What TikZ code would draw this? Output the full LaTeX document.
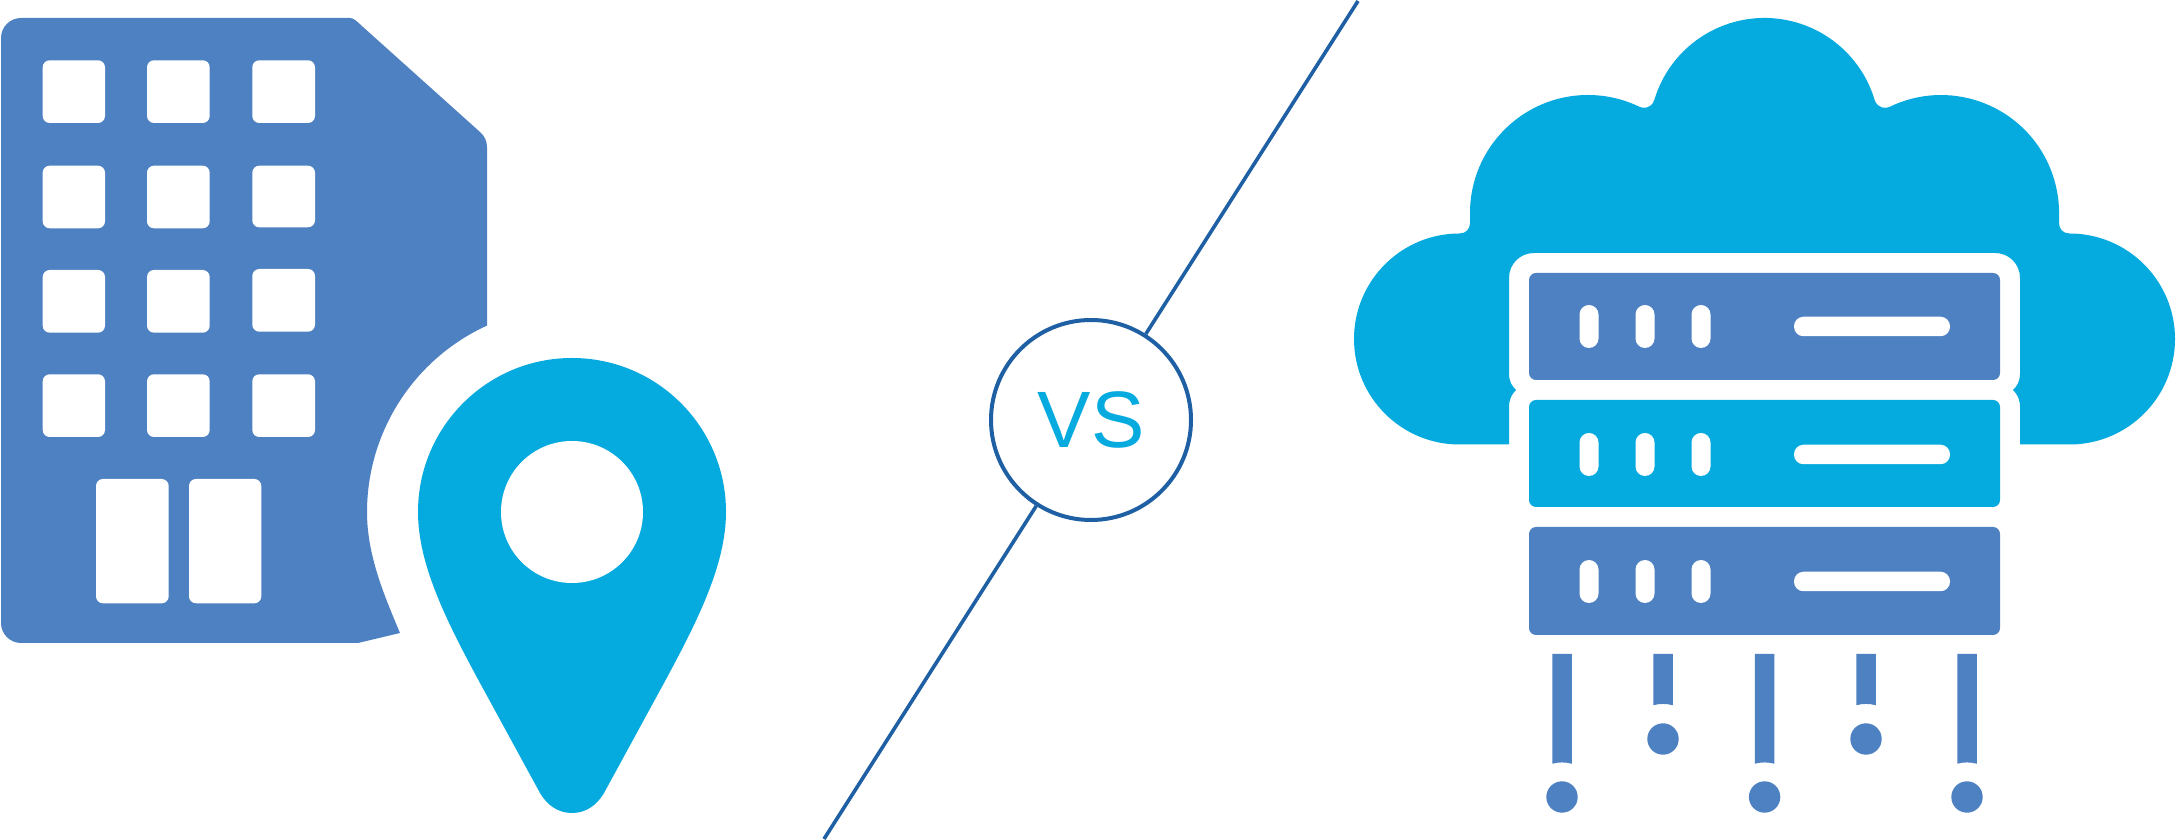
\documentclass[tikz,border=0pt]{standalone}
\usepackage{fontspec}
\setmainfont{Liberation Sans}
\definecolor{bluefill}{HTML}{4E81C2}
\definecolor{cyanfill}{HTML}{05AADF}
\definecolor{linecol}{HTML}{1F5FA3}
\tikzset{
  bluepart/.style={fill=bluefill},
  cyanpart/.style={fill=cyanfill},
  hole/.style={fill=white,rounded corners=7},
  slot/.style={fill=white,rounded corners=9.5},
  rack/.style={rounded corners=7},
  divider/.style={draw=linecol,line width=3.6pt},
  vsbadge/.style={circle,draw=linecol,line width=4pt,fill=white,minimum size=200pt,inner sep=0pt,text=cyanfill,font=\fontsize{80}{80}\selectfont}
}
\begin{document}
\begin{tikzpicture}[x=1pt,y=1pt]
\useasboundingbox (0,0) rectangle (2176,840);
\fill[white] (0,0) rectangle (2176,840);

% building
\fill[bluepart] (21,822) -- (350,822)
  .. controls (354,822) and (357.5,818) .. (363,813)
  -- (480,708) .. controls (484.5,704) and (487,699) .. (487,693)
  -- (487,514.4)
  arc[start angle=114.5,end angle=180,radius=205]
  .. controls (367,285) and (384,245) .. (400,207)
  -- (358,197) -- (21,197)
  .. controls (10,197) and (1,206) .. (1,217)
  -- (1,802) .. controls (1,813) and (10,822) .. (21,822) -- cycle;
\foreach \xa/\xb/\ya/\yb in {
  42.7/105/60.3/123, 147/209.7/60.3/123, 252.3/315/60.3/123,
  42.7/105/165.7/228.3, 147/209.7/165.7/228.3, 252.3/315/165.7/227.3,
  42.7/105/270/332.7, 147/209.7/270/332.7, 252.3/315/269/331.7,
  42.7/105/374.3/437, 147/209.7/374.3/437, 252.3/315/374.3/437}{
  \fill[hole] (\xa,840-\ya) rectangle (\xb,840-\yb);
}
\foreach \xa/\xb in {96/168.7,189/261.3}{
  \fill[hole] (\xa,840-479) rectangle (\xb,840-603.3);
}

% pin
\fill[cyanpart] (418,328)
  .. controls (418,275) and (447,218) .. (480,157)
  -- (540,47) .. controls (547,35) and (558,27) .. (572,27)
  .. controls (586,27) and (597,35) .. (604,47)
  -- (664,157) .. controls (697,218) and (726,275) .. (726,328)
  arc[start angle=0,end angle=180,radius=154] -- cycle;
\fill[white] (572,328) circle (71);

% divider with VS badge
\coordinate (lineTop) at (1358,840-1);
\coordinate (lineBottom) at (824,840-839);
\node[vsbadge] (vs) at (1091,840-420) {VS};
\draw[divider] (lineTop) -- (vs);
\draw[divider] (lineBottom) -- (vs);

% cloud
\fill[cyanpart] (1509,395.5) -- (1459.5,395.5)
  arc[start angle=-90,end angle=-270,radius=105.5]
  .. controls (1466,606.5) and (1470,611) .. (1470,617)
  -- (1470,627)
  arc[start angle=180,end angle=64,radius=118]
  .. controls (1643,731.5) and (1651,731) .. (1654.2,739.7)
  arc[start angle=163.5,end angle=16.5,radius=115]
  .. controls (1878,731) and (1886,731.5) .. (1889.3,733)
  arc[start angle=116,end angle=0,radius=118]
  -- (2059,617)
  .. controls (2059,611) and (2063,606.5) .. (2069.5,606.5)
  arc[start angle=90,end angle=-90,radius=105.5]
  -- (2020,395.5) -- (2020,433)
  .. controls (2020,441) and (2017,446) .. (2013,450)
  .. controls (2017,454) and (2020,458) .. (2020,467)
  -- (2020,562) .. controls (2020,576) and (2009,587) .. (1995,587)
  -- (1534,587) .. controls (1520,587) and (1509,576) .. (1509,562)
  -- (1509,467) .. controls (1509,458) and (1512,454) .. (1516,450)
  .. controls (1512,446) and (1509,441) .. (1509,433) -- cycle;

% server racks
\fill[bluepart,rack] (1529,840-273) rectangle (2000,840-380);
\fill[cyanpart,rack] (1529,840-400) rectangle (2000,840-507);
\fill[bluepart,rack] (1529,840-527) rectangle (2000,840-635);
\foreach \c in {326.5,454.5,581.5}{
  \foreach \x in {1589,1645,1701}{
    \fill[slot] (\x-9.5,840-\c+21.5) rectangle (\x+9.5,840-\c-21.5);
  }
  \fill[slot] (1794,840-\c+9.75) rectangle (1950,840-\c-9.75);
}

% drops
\foreach \x in {1562,1764.6,1967}{
  \fill[bluepart] (\x-9.75,840-654) -- (\x+9.75,840-654) -- (\x+9.75,840-763.7)
    .. controls (\x+3,840-762) and (\x-3,840-762) .. (\x-9.75,840-763.7) -- cycle;
  \fill[bluepart] (\x,840-797) circle (15.7);
}
\foreach \x in {1663,1866}{
  \fill[bluepart] (\x-9.75,840-654) -- (\x+9.75,840-654) -- (\x+9.75,840-705.2)
    .. controls (\x+3,840-703.5) and (\x-3,840-703.5) .. (\x-9.75,840-705.2) -- cycle;
  \fill[bluepart] (\x,840-739) circle (15.7);
}
\end{tikzpicture}
\end{document}
